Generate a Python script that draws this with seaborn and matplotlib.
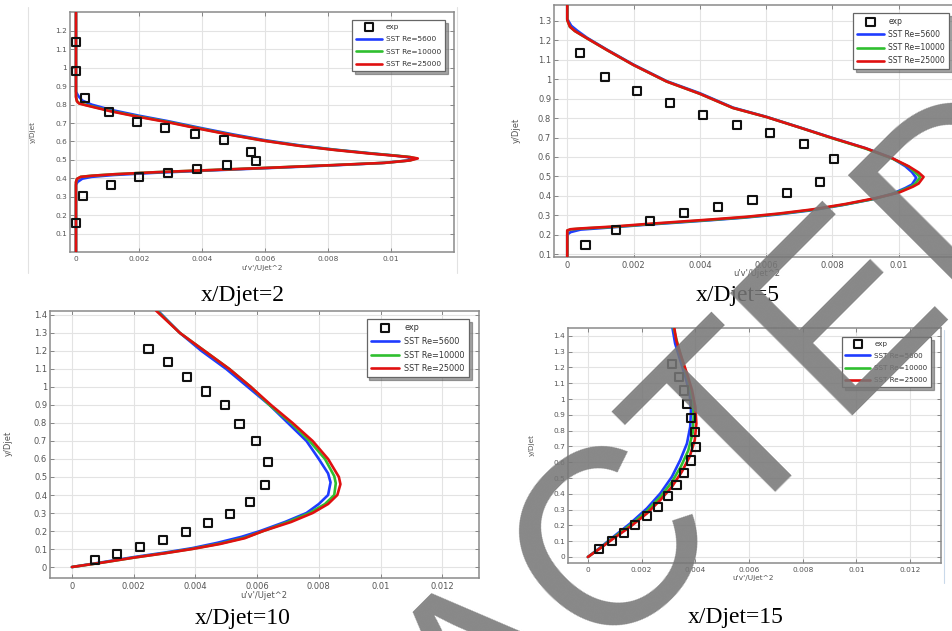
import matplotlib
matplotlib.use("Agg")
import matplotlib.pyplot as plt
from matplotlib.lines import Line2D
from matplotlib.ticker import FixedLocator, FuncFormatter
import seaborn as sns

# ---------------- data: u'v'/Ujet^2 profiles versus y/Djet ----------------
series_names = ["SST Re=5600", "SST Re=10000", "SST Re=25000"]
series_colors = ["#1f3cff", "#2fbf2f", "#e01010"]

# x/Djet = 2
d2_exp_u = [0.0, 0.0, 0.00028, 0.00105, 0.00193, 0.00284, 0.00378, 0.00469, 0.00555,
            0.00571, 0.00478, 0.00385, 0.00293, 0.00199, 0.00110, 0.00022, 0.0]
d2_exp_y = [1.142, 0.983, 0.834, 0.758, 0.707, 0.673, 0.640, 0.610, 0.545,
            0.492, 0.471, 0.451, 0.429, 0.409, 0.362, 0.306, 0.158]
d2_re5600_u = [0.0, 0.0, 0.00007, 0.0002, 0.0005, 0.0011, 0.0020, 0.0029, 0.0040, 0.0050,
               0.0060, 0.0071, 0.0082, 0.0093, 0.0101, 0.0105, 0.0107, 0.0105, 0.0097,
               0.0081, 0.0060, 0.0040, 0.0025, 0.0012, 0.0005, 0.0002, 0.00005, 0.0, 0.0]
d2_re5600_y = [1.30, 0.87, 0.848, 0.822, 0.800, 0.772, 0.740, 0.711, 0.672, 0.638,
               0.607, 0.579, 0.556, 0.537, 0.524, 0.516, 0.508, 0.496, 0.483,
               0.470, 0.455, 0.441, 0.430, 0.418, 0.408, 0.398, 0.380, 0.365, 0.0]
d2_re10000_u = [0.0, 0.0, 0.00003, 0.0001, 0.0003, 0.0011, 0.0020, 0.0029, 0.0040, 0.0050,
                0.0060, 0.0071, 0.0082, 0.0093, 0.0101, 0.0106, 0.0108, 0.0106, 0.0098,
                0.0082, 0.0061, 0.0040, 0.0025, 0.0012, 0.0005, 0.00015, 0.00003, 0.0, 0.0]
d2_re10000_y = [1.30, 0.845, 0.82, 0.808, 0.799, 0.766, 0.735, 0.707, 0.668, 0.634,
                0.604, 0.577, 0.555, 0.536, 0.524, 0.516, 0.508, 0.497, 0.484,
                0.472, 0.457, 0.443, 0.433, 0.422, 0.414, 0.408, 0.396, 0.378, 0.0]
d2_re25000_u = [0.0, 0.0, 0.00003, 0.0001, 0.0003, 0.0011, 0.0020, 0.0029, 0.0040, 0.0050,
                0.0060, 0.0071, 0.0082, 0.0093, 0.0101, 0.0106, 0.01085, 0.0106, 0.0098,
                0.0082, 0.0061, 0.0040, 0.0025, 0.0012, 0.0005, 0.00015, 0.00003, 0.0, 0.0]
d2_re25000_y = [1.30, 0.84, 0.818, 0.806, 0.797, 0.764, 0.733, 0.705, 0.666, 0.633,
                0.603, 0.576, 0.554, 0.535, 0.523, 0.515, 0.508, 0.497, 0.484,
                0.472, 0.457, 0.443, 0.433, 0.422, 0.414, 0.408, 0.397, 0.380, 0.0]

# x/Djet = 5
d5_exp_u = [0.00038, 0.00114, 0.00211, 0.00310, 0.00410, 0.00511, 0.00613, 0.00713, 0.00805,
            0.00762, 0.00663, 0.00559, 0.00455, 0.00353, 0.00250, 0.00148, 0.00055]
d5_exp_y = [1.133, 1.010, 0.941, 0.876, 0.816, 0.766, 0.721, 0.665, 0.588,
            0.473, 0.416, 0.378, 0.344, 0.313, 0.272, 0.224, 0.145]
d5_re5600_u = [0.0, 0.0, 0.00012, 0.0003, 0.0006, 0.0012, 0.0020, 0.0030, 0.0040, 0.0050,
               0.0060, 0.0070, 0.0080, 0.0090, 0.0098, 0.0102, 0.0104, 0.01053, 0.0104,
               0.0102, 0.0098, 0.0092, 0.0083, 0.0073, 0.0063, 0.0053, 0.0043, 0.0033,
               0.0023, 0.0013, 0.0004, 0.0001, 0.0, 0.0]
d5_re5600_y = [1.38, 1.31, 1.275, 1.25, 1.213, 1.152, 1.075, 0.99, 0.928, 0.854,
               0.807, 0.753, 0.698, 0.645, 0.594, 0.552, 0.522, 0.492, 0.458,
               0.440, 0.410, 0.382, 0.352, 0.324, 0.303, 0.287, 0.274, 0.262,
               0.250, 0.237, 0.226, 0.213, 0.200, 0.08]
d5_re10000_u = [0.0, 0.0, 0.00008, 0.00023, 0.0006, 0.0012, 0.0020, 0.0030, 0.0040, 0.0050,
                0.0060, 0.0070, 0.0080, 0.0090, 0.0098, 0.0103, 0.0105, 0.01065, 0.0105,
                0.01035, 0.0099, 0.0093, 0.0084, 0.0074, 0.0064, 0.0054, 0.0044, 0.0034,
                0.0024, 0.0014, 0.0004, 0.0001, 0.0, 0.0]
d5_re10000_y = [1.38, 1.305, 1.27, 1.248, 1.21, 1.15, 1.073, 0.988, 0.925, 0.852,
                0.806, 0.752, 0.696, 0.643, 0.592, 0.550, 0.520, 0.496, 0.462,
                0.445, 0.414, 0.386, 0.356, 0.328, 0.307, 0.290, 0.277, 0.265,
                0.253, 0.240, 0.231, 0.227, 0.220, 0.08]
d5_re25000_u = [0.0, 0.0, 0.00008, 0.00023, 0.0006, 0.0012, 0.0020, 0.0030, 0.0040, 0.0050,
                0.0060, 0.0070, 0.0080, 0.0090, 0.0098, 0.0103, 0.0106, 0.01075, 0.0106,
                0.01043, 0.0100, 0.0093, 0.0084, 0.0074, 0.0064, 0.0054, 0.0044, 0.0034,
                0.0024, 0.0014, 0.0004, 0.0001, 0.0, 0.0]
d5_re25000_y = [1.38, 1.305, 1.27, 1.248, 1.21, 1.15, 1.073, 0.988, 0.925, 0.852,
                0.806, 0.752, 0.697, 0.645, 0.594, 0.552, 0.520, 0.497, 0.463,
                0.447, 0.416, 0.388, 0.358, 0.330, 0.309, 0.292, 0.279, 0.267,
                0.255, 0.242, 0.232, 0.228, 0.222, 0.08]

# x/Djet = 10
d10_exp_u = [0.00074, 0.00146, 0.00222, 0.00295, 0.00369, 0.00440, 0.00511, 0.00577, 0.00625,
             0.00635, 0.00597, 0.00543, 0.00496, 0.00434, 0.00373, 0.00311, 0.00248]
d10_exp_y = [0.037, 0.074, 0.111, 0.152, 0.193, 0.243, 0.295, 0.363, 0.458,
             0.584, 0.699, 0.795, 0.899, 0.975, 1.057, 1.137, 1.211]
d10_re5600_u = [0.0, 0.0010, 0.0020, 0.0030, 0.0039, 0.0047, 0.0055, 0.0061, 0.0069, 0.0076,
                0.0080, 0.0083, 0.00838, 0.0083, 0.0080, 0.0076, 0.0070, 0.0064, 0.0057,
                0.0050, 0.0042, 0.0035, 0.00278]
d10_re5600_y = [0.0, 0.027, 0.055, 0.080, 0.105, 0.134, 0.168, 0.200, 0.250, 0.300,
                0.350, 0.400, 0.470, 0.520, 0.600, 0.700, 0.800, 0.900, 1.000,
                1.100, 1.200, 1.300, 1.425]
d10_re10000_u = [0.0, 0.0010, 0.0020, 0.0030, 0.0039, 0.0048, 0.0056, 0.0062, 0.0070, 0.0077,
                 0.0082, 0.0085, 0.00855, 0.0085, 0.0082, 0.0077, 0.0071, 0.0064, 0.0058,
                 0.0051, 0.0043, 0.0035, 0.00275]
d10_re10000_y = [0.0, 0.025, 0.052, 0.077, 0.101, 0.130, 0.163, 0.200, 0.250, 0.300,
                 0.350, 0.400, 0.465, 0.505, 0.600, 0.700, 0.800, 0.900, 1.000,
                 1.100, 1.200, 1.300, 1.425]
d10_re25000_u = [0.0, 0.0010, 0.0020, 0.0030, 0.0039, 0.0048, 0.0056, 0.0062, 0.0071, 0.0078,
                 0.0083, 0.0086, 0.0087, 0.00865, 0.0083, 0.0078, 0.00715, 0.00645, 0.0058,
                 0.0051, 0.0043, 0.0035, 0.00272]
d10_re25000_y = [0.0, 0.025, 0.052, 0.076, 0.100, 0.128, 0.160, 0.200, 0.250, 0.300,
                 0.350, 0.400, 0.460, 0.500, 0.600, 0.700, 0.800, 0.900, 1.000,
                 1.100, 1.200, 1.300, 1.425]

# x/Djet = 15
d15_exp_u = [0.00043, 0.00089, 0.00133, 0.00176, 0.00220, 0.00261, 0.00297, 0.00330, 0.00359,
             0.00385, 0.00401, 0.00400, 0.00384, 0.00370, 0.00357, 0.00338, 0.00313]
d15_exp_y = [0.048, 0.099, 0.152, 0.202, 0.259, 0.316, 0.384, 0.455, 0.531,
             0.611, 0.698, 0.789, 0.879, 0.968, 1.054, 1.139, 1.221]
d15_re5600_u = [0.0, 0.00046, 0.00096, 0.00158, 0.0022, 0.0027, 0.00313, 0.00344, 0.00369,
                0.00381, 0.00384, 0.00379, 0.00363, 0.00344, 0.00325, 0.00315]
d15_re5600_y = [0.0, 0.060, 0.129, 0.213, 0.308, 0.403, 0.508, 0.614, 0.719,
                0.824, 0.930, 1.035, 1.141, 1.246, 1.351, 1.45]
d15_re10000_u = [0.0, 0.00046, 0.00096, 0.00158, 0.0022, 0.0027, 0.00313, 0.00347, 0.00374,
                 0.0039, 0.00394, 0.0039, 0.00376, 0.00356, 0.00337, 0.00319]
d15_re10000_y = [0.0, 0.057, 0.123, 0.202, 0.291, 0.381, 0.475, 0.575, 0.675,
                 0.785, 0.890, 1.000, 1.110, 1.220, 1.330, 1.45]
d15_re25000_u = [0.0, 0.00046, 0.00096, 0.00158, 0.0022, 0.0027, 0.00313, 0.0035, 0.00379,
                 0.00398, 0.00404, 0.0040, 0.00388, 0.00369, 0.00348, 0.00329, 0.00322]
d15_re25000_y = [0.0, 0.055, 0.118, 0.192, 0.276, 0.361, 0.445, 0.540, 0.635,
                 0.740, 0.845, 0.951, 1.056, 1.162, 1.267, 1.373, 1.45]

x_ticks_a = [0.0, 0.002, 0.004, 0.006, 0.008, 0.01]
x_ticks_b = [0.0, 0.002, 0.004, 0.006, 0.008, 0.01, 0.012]
y_ticks_d2 = [0.1, 0.2, 0.3, 0.4, 0.5, 0.6, 0.7, 0.8, 0.9, 1.0, 1.1, 1.2]
y_ticks_d5 = [0.1, 0.2, 0.3, 0.4, 0.5, 0.6, 0.7, 0.8, 0.9, 1.0, 1.1, 1.2, 1.3]
y_ticks_d10 = [0.0, 0.1, 0.2, 0.3, 0.4, 0.5, 0.6, 0.7, 0.8, 0.9, 1.0, 1.1, 1.2, 1.3, 1.4]

captions = ["x/Djet=2", "x/Djet=5", "x/Djet=10", "x/Djet=15"]
x_label = "u'v'/Ujet^2"
y_label = "y/Djet"

# ---------------- figure ----------------
sns.set_theme(style="white")
plt.rcParams["font.family"] = ["DejaVu Sans"]

W, H = 953, 631
fig = plt.figure(figsize=(W / 100, H / 100), dpi=100)
fig.patch.set_facecolor("white")


def frac_rect(left, top, right, bottom):
    return [left / W, 1 - bottom / H, (right - left) / W, (bottom - top) / H]


def fx(px):
    return px / W


def fy(py):
    return 1 - py / H


panels = [
    dict(rect=(70, 12, 454, 252), xlim=(-0.00019, 0.0120), ylim=(0.0, 1.303),
         xt=x_ticks_a, yt=y_ticks_d2, tfs=5.3, lfs=5.3, lsp=0.86,
         exp=(d2_exp_u, d2_exp_y),
         sims=[(d2_re5600_u, d2_re5600_y), (d2_re10000_u, d2_re10000_y), (d2_re25000_u, d2_re25000_y)],
         xl=(262, 268), yl=(33, 132), leg=(445, 20), cap=(243, 301), text=captions[0]),
    dict(rect=(554, 5, 965, 257), xlim=(-0.0004, 0.012), ylim=(0.085, 1.382),
         xt=x_ticks_a, yt=y_ticks_d5, tfs=6.0, lfs=5.5, lsp=0.55,
         exp=(d5_exp_u, d5_exp_y),
         sims=[(d5_re5600_u, d5_re5600_y), (d5_re10000_u, d5_re10000_y), (d5_re25000_u, d5_re25000_y)],
         xl=(757, 273), yl=(516, 130), leg=(949, 13), cap=(738, 301), text=captions[1]),
    dict(rect=(50, 311, 479, 578), xlim=(-0.00071, 0.01319), ylim=(-0.061, 1.422),
         xt=x_ticks_b, yt=y_ticks_d10, tfs=6.0, lfs=5.9, lsp=0.58,
         exp=(d10_exp_u, d10_exp_y),
         sims=[(d10_re5600_u, d10_re5600_y), (d10_re10000_u, d10_re10000_y), (d10_re25000_u, d10_re25000_y)],
         xl=(264, 595), yl=(8, 443), leg=(469, 319), cap=(243, 624), text=captions[2]),
    dict(rect=(568, 328, 941, 563), xlim=(-0.00074, 0.01315), ylim=(-0.038, 1.45),
         xt=x_ticks_b, yt=y_ticks_d10, tfs=5.3, lfs=5.1, lsp=0.88,
         exp=(d15_exp_u, d15_exp_y),
         sims=[(d15_re5600_u, d15_re5600_y), (d15_re10000_u, d15_re10000_y), (d15_re25000_u, d15_re25000_y)],
         xl=(753, 578), yl=(532, 445), leg=(931, 337), cap=(736, 623), text=captions[3]),
]

fmt = FuncFormatter(lambda v, p: f"{v:g}")

for p in panels:
    ax = fig.add_axes(frac_rect(*p["rect"]))
    ax.set_facecolor("white")

    for (u, y), name, col in zip(p["sims"], series_names, series_colors):
        sns.lineplot(x=u, y=y, sort=False, estimator=None, color=col, lw=1.9,
                     ax=ax, label=name, zorder=3)
    sns.scatterplot(x=p["exp"][0], y=p["exp"][1], marker="s", s=34,
                    facecolor="none", edgecolor="#111111", linewidth=1.5,
                    ax=ax, label="exp", zorder=5)

    ax.set_xlim(*p["xlim"])
    ax.set_ylim(*p["ylim"])
    ax.xaxis.set_major_locator(FixedLocator(p["xt"]))
    ax.yaxis.set_major_locator(FixedLocator(p["yt"]))
    ax.xaxis.set_major_formatter(fmt)
    ax.yaxis.set_major_formatter(fmt)
    ax.grid(True, color="#e3e3e3", lw=0.8)
    ax.set_axisbelow(True)
    ax.tick_params(axis="both", which="major", direction="in", length=3, width=0.6,
                   color="#777777", bottom=True, left=True, top=True, right=True,
                   labelsize=p["tfs"], labelcolor="#555555")
    ax.tick_params(axis="x", pad=3)
    ax.tick_params(axis="y", pad=2)
    for sp in ax.spines.values():
        sp.set_color("#8a8a8a")
        sp.set_linewidth(1.1)

    ax.set_xlabel(x_label, fontsize=p["tfs"], color="#555555")
    ax.set_ylabel(y_label, fontsize=p["tfs"], color="#555555")
    ax.xaxis.label.set_verticalalignment("center")
    ax.yaxis.label.set_verticalalignment("center")
    ax.xaxis.set_label_coords(fx(p["xl"][0]), fy(p["xl"][1]), transform=fig.transFigure)
    ax.yaxis.set_label_coords(fx(p["yl"][0]), fy(p["yl"][1]), transform=fig.transFigure)

    handles, labels = ax.get_legend_handles_labels()
    order = [labels.index("exp")] + [labels.index(n) for n in series_names]
    leg = ax.legend([handles[i] for i in order], [labels[i] for i in order],
                    loc="upper right", bbox_to_anchor=(fx(p["leg"][0]), fy(p["leg"][1])),
                    bbox_transform=fig.transFigure, fontsize=p["lfs"], frameon=True,
                    fancybox=False, shadow=True, borderpad=0.5, labelspacing=p["lsp"],
                    handlelength=3.5, handletextpad=0.6, borderaxespad=0.0)
    leg.get_frame().set_edgecolor("#666666")
    leg.get_frame().set_linewidth(0.9)
    for t in leg.get_texts():
        t.set_color("#333333")

    fig.text(fx(p["cap"][0]), fy(p["cap"][1]), p["text"], ha="center", va="baseline",
             fontsize=17, family=["Liberation Serif", "DejaVu Serif"], color="black")

# thin frame edges of the panel images
fig.add_artist(Line2D([fx(28), fx(28)], [fy(7), fy(273)], color="#e2e2e2", lw=0.8))
fig.add_artist(Line2D([fx(457), fx(457)], [fy(7), fy(273)], color="#e2e2e2", lw=0.8))
fig.add_artist(Line2D([fx(944), fx(944)], [fy(330), fy(583)], color="#c9d9ea", lw=0.8))

# diagonal watermark
fig.text(fx(106), fy(1142), "REDACTED", rotation=45, rotation_mode="anchor",
         ha="left", va="baseline", fontsize=180, family=["Liberation Sans", "DejaVu Sans"],
         color="#777777", alpha=0.88, zorder=20)

fig.savefig("out.png", dpi=100, facecolor="white")
